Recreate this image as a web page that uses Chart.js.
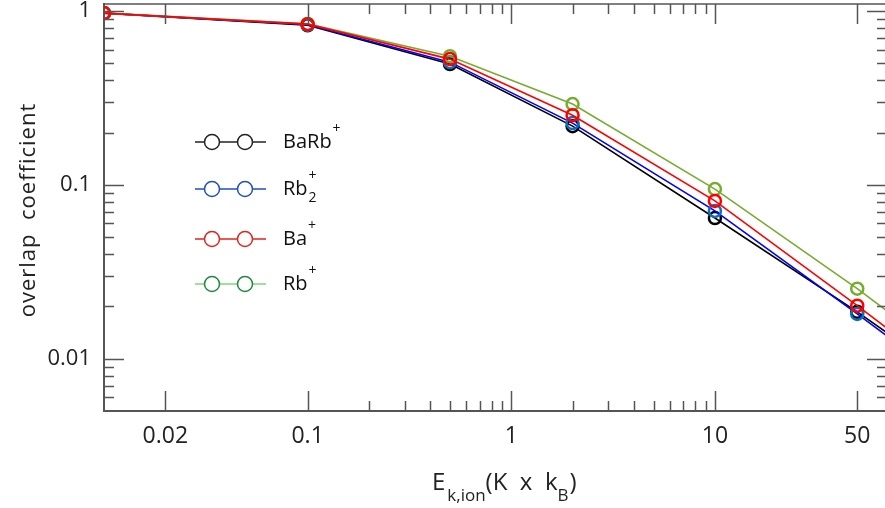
<!DOCTYPE html>
<html>
<head>
<meta charset="utf-8">
<script src="https://cdn.jsdelivr.net/npm/chart.js@4/dist/chart.umd.min.js"></script>
<style>
  html, body { margin: 0; padding: 0; background: #fff; overflow: hidden; }
</style>
</head>
<body>
<canvas id="overlapChart" width="888" height="508"></canvas>
<script>
// energies (K x kB) and overlap coefficients per ion
const energies = [0.01, 0.1, 0.5, 2, 10, 50, 100];
const baRb = [0.975, 0.83, 0.496, 0.218, 0.0645, 0.0186, 0.0105];
const rb2 = [0.975, 0.835, 0.509, 0.227, 0.0709, 0.0181, 0.0099];
const ba = [0.975, 0.842, 0.53, 0.252, 0.0809, 0.0202, 0.0109];
const rb = [0.975, 0.845, 0.551, 0.292, 0.0947, 0.0253, 0.0137];

const xTicks = [0.02, 0.1, 1, 10, 50];
const xTickLabels = ["0.02", "0.1", "1", "10", "50"];
const xMinor = [0.2, 0.3, 0.4, 0.5, 0.6, 0.7, 0.8, 0.9, 2, 3, 4, 5, 6, 7, 8, 9];
const yTicks = [0.01, 0.1, 1];
const yTickLabels = ["0.01", "0.1", "1"];
const yMinor = [0.006, 0.007, 0.008, 0.009, 0.02, 0.03, 0.04, 0.05, 0.06, 0.07, 0.08, 0.09,
  0.2, 0.3, 0.4, 0.5, 0.6, 0.7, 0.8, 0.9];

const FONT = "'Open Sans', 'DejaVu Sans', sans-serif";

function points(ys) {
  return energies.map((x, i) => ({ x: x, y: ys[i] }));
}

function series(label, ys, lineColor, markColor, order) {
  return {
    label: label,
    data: points(ys),
    borderColor: lineColor,
    borderWidth: 1.6,
    pointRadius: 6,
    pointBorderWidth: 2.5,
    pointBorderColor: markColor,
    pointBackgroundColor: "rgba(0,0,0,0)",
    pointStyle: "circle",
    order: order,
  };
}

// scale paddings for edge labels would shrink the plot area
function noPadding(scale) {
  scale.paddingTop = 0;
  scale.paddingBottom = 0;
  scale.paddingLeft = 0;
  scale.paddingRight = 0;
}

// inward tick marks, top frame line, titles and legend
const decorations = {
  id: "decorations",
  afterDraw(chart) {
    const c = chart.ctx;
    const a = chart.chartArea;
    const xs = chart.scales.x;
    const ys = chart.scales.y;
    c.save();
    c.strokeStyle = "#555";
    c.lineWidth = 1.5;
    c.beginPath();
    c.moveTo(a.left, a.top);
    c.lineTo(a.right, a.top);
    const xTick = (v, len) => {
      const p = Math.round(xs.getPixelForValue(v)) + 0.5;
      c.moveTo(p, a.bottom); c.lineTo(p, a.bottom - len);
      c.moveTo(p, a.top); c.lineTo(p, a.top + len);
    };
    const yTick = (v, len) => {
      const p = Math.round(ys.getPixelForValue(v)) + 0.5;
      c.moveTo(a.left, p); c.lineTo(a.left + len, p);
      c.moveTo(a.right, p); c.lineTo(a.right - len, p);
    };
    xTicks.forEach(v => xTick(v, 20));
    xMinor.forEach(v => xTick(v, 10));
    yTicks.forEach(v => yTick(v, 20));
    yMinor.forEach(v => yTick(v, 10));
    c.stroke();

    c.fillStyle = "#222";
    c.textBaseline = "alphabetic";
    c.textAlign = "left";

    // y title
    c.save();
    c.translate(35, 210);
    c.rotate(-Math.PI / 2);
    c.textAlign = "center";
    c.font = "22px " + FONT;
    c.letterSpacing = "1px";
    c.fillText("overlap  coefficient", 0, 0);
    c.restore();

    // x title with subscripts
    const run = (parts, x, y) => {
      parts.forEach(p => {
        c.font = p.size + "px " + FONT;
        c.fillText(p.t, x, y + (p.dy || 0));
        x += c.measureText(p.t).width + (p.gap || 0);
      });
    };
    run([
      { t: "E", size: 24, gap: 2 },
      { t: "k,ion", size: 17, dy: 11 },
      { t: "(K  x  k", size: 24 },
      { t: "B", size: 17, dy: 11, gap: 1 },
      { t: ")", size: 24 },
    ], 432, 490);

    // legend
    const entries = [
      { name: "BaRb", sub: "", line: "#222", mark: "#222", y: 142 },
      { name: "Rb", sub: "2", line: "#1f4fc4", mark: "#1f4fc4", y: 189 },
      { name: "Ba", sub: "", line: "#e3231d", mark: "#e3231d", y: 239 },
      { name: "Rb", sub: "", line: "#7ed67e", mark: "#1e8a3c", y: 284 },
    ];
    entries.forEach(e => {
      c.strokeStyle = e.line;
      c.lineWidth = 1.5;
      c.beginPath();
      c.moveTo(195, e.y); c.lineTo(266, e.y);
      c.stroke();
      c.strokeStyle = e.mark;
      [212, 245].forEach(cx => {
        c.beginPath();
        c.arc(cx, e.y, 7.5, 0, Math.PI * 2);
        c.fillStyle = "#fff";
        c.fill();
        c.stroke();
      });
      c.fillStyle = "#111";
      c.font = "20px " + FONT;
      c.fillText(e.name, 283, e.y + 6);
      const w = c.measureText(e.name).width;
      c.font = "14px " + FONT;
      c.fillText("+", 283 + w + 1, e.y - 9);
      if (e.sub) c.fillText(e.sub, 283 + w + 1, e.y + 13);
    });
    c.restore();
  },
};

const ctx = document.getElementById("overlapChart").getContext("2d");
const overlapChart = new Chart(ctx, {
  type: "line",
  data: {
    datasets: [
      series("BaRb+", baRb, "#000000", "#000000", 4),
      series("Rb2+", rb2, "#0000ff", "#0a6fbf", 3),
      series("Rb+", rb, "#77ac30", "#77ac30", 2),
      series("Ba+", ba, "#ff0000", "#ff0000", 1),
    ],
  },
  options: {
    responsive: false,
    animation: false,
    layout: { autoPadding: false, padding: { top: 4, right: 1, left: 0, bottom: 0 } },
    scales: {
      x: {
        type: "logarithmic",
        min: 0.01,
        max: 70,
        afterBuildTicks: (scale) => {
          scale.ticks = xTicks.map(v => ({ value: v }));
        },
        afterFit: (scale) => {
          scale.height = 97;
          noPadding(scale);
        },
        ticks: {
          autoSkip: false,
          maxRotation: 0,
          padding: 12,
          color: "#222",
          font: { family: FONT, size: 23 },
          callback: (v, i) => xTickLabels[i],
        },
        grid: { display: false, drawTicks: false },
        border: { display: true, color: "#555", width: 2 },
      },
      y: {
        type: "logarithmic",
        min: 0.005,
        max: 1.1,
        afterBuildTicks: (scale) => {
          scale.ticks = yTicks.map(v => ({ value: v }));
        },
        afterFit: (scale) => {
          scale.width = 104;
          noPadding(scale);
        },
        ticks: {
          padding: 13,
          color: "#222",
          font: { family: FONT, size: 22 },
          callback: (v, i) => yTickLabels[i],
        },
        grid: { display: false, drawTicks: false },
        border: { display: true, color: "#555", width: 2 },
      },
    },
    plugins: {
      legend: { display: false },
      tooltip: { enabled: false },
    },
  },
  plugins: [decorations],
});
</script>
</body>
</html>
